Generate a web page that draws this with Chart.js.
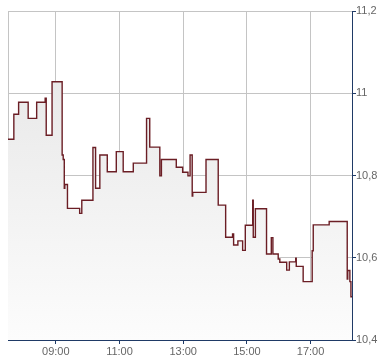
<!DOCTYPE html>
<html>
<head>
<meta charset="utf-8">
<script src="https://cdn.jsdelivr.net/npm/chart.js@4/dist/chart.umd.min.js"></script>
<style>
  html, body { margin: 0; padding: 0; background: #fff; }
  #wrap { width: 390px; height: 364px; }
</style>
</head>
<body>
<div id="wrap"><canvas id="priceChart"></canvas></div>
<script>
// price changes over the day (time of change, new price)
const times = ['07:30', '07:41', '07:50', '08:08', '08:24', '08:40', '08:42', '08:53', '09:12', '09:14',
    '09:16', '09:17', '09:22', '09:45', '09:49', '10:10', '10:15', '10:23', '10:37', '10:54',
    '11:07', '11:26', '11:51', '11:57', '12:16', '12:19', '12:47', '12:59', '13:09', '13:13',
    '13:17', '13:18', '13:43', '14:06', '14:20', '14:33', '14:35', '14:43', '14:52', '14:57',
    '15:11', '15:12', '15:16', '15:37', '15:46', '15:49', '15:59', '16:02', '16:15', '16:20',
    '16:32', '16:33', '16:46', '17:03', '17:05', '17:35', '18:09', '18:10', '18:14', '18:16', '18:18'];
const prices = [10.888, 10.949, 10.978, 10.939, 10.978, 10.988, 10.898, 11.028, 10.850, 10.839,
    10.769, 10.778, 10.720, 10.708, 10.740, 10.868, 10.769, 10.850, 10.809, 10.858,
    10.809, 10.830, 10.939, 10.869, 10.799, 10.839, 10.820, 10.808, 10.799, 10.850,
    10.750, 10.759, 10.839, 10.728, 10.650, 10.658, 10.631, 10.641, 10.618, 10.679,
    10.740, 10.650, 10.719, 10.609, 10.649, 10.609, 10.597, 10.589, 10.570, 10.590,
    10.599, 10.579, 10.542, 10.617, 10.680, 10.688, 10.548, 10.569, 10.542, 10.505, 10.505];
const hourTicks = [9, 11, 13, 15, 17];
const priceTicks = [10.4, 10.6, 10.8, 11, 11.2];

const toHours = t => {
    const p = t.split(':');
    return parseInt(p[0], 10) + parseInt(p[1], 10) / 60;
};

const navy = '#1f3a66';
const gridGray = '#c4c4c4';

// gray frame on left / top of the plot area
const framePlugin = {
    id: 'frame',
    beforeDatasetsDraw(chart) {
        const a = chart.chartArea;
        const ctx = chart.ctx;
        ctx.save();
        ctx.strokeStyle = gridGray;
        ctx.lineWidth = 1;
        ctx.beginPath();
        ctx.moveTo(Math.round(a.left) + 0.5, a.bottom);
        ctx.lineTo(Math.round(a.left) + 0.5, Math.round(a.top) + 0.5);
        ctx.lineTo(a.right, Math.round(a.top) + 0.5);
        ctx.stroke();
        ctx.restore();
    }
};

const ctx = document.getElementById('priceChart').getContext('2d');
const chart = new Chart(ctx, {
    type: 'line',
    data: {
        datasets: [{
            data: times.map((t, i) => ({ x: toHours(t), y: prices[i] })),
            stepped: 'before',
            borderColor: '#6b1e25',
            borderWidth: 1.4,
            pointRadius: 0,
            fill: 'start',
            backgroundColor: function(context) {
                const area = context.chart.chartArea;
                if (!area) return '#efefef';
                const g = context.chart.ctx.createLinearGradient(0, area.top, 0, area.bottom);
                g.addColorStop(0, '#e4e4e4');
                g.addColorStop(1, '#fcfcfc');
                return g;
            }
        }]
    },
    options: {
        responsive: true,
        maintainAspectRatio: false,
        animation: false,
        layout: { padding: { left: 8, top: 11, right: 0, bottom: 0 } },
        plugins: {
            legend: { display: false },
            tooltip: { enabled: false }
        },
        scales: {
            x: {
                type: 'linear',
                min: 7.5,
                max: 18.3,
                afterBuildTicks: scale => {
                    scale.ticks = hourTicks.map(v => ({ value: v }));
                },
                afterFit: scale => { scale.height = 24; },
                grid: {
                    color: gridGray,
                    tickColor: navy,
                    tickLength: 4
                },
                border: { color: navy, width: 1 },
                ticks: {
                    padding: 1,
                    color: '#666',
                    font: { family: 'Arial, "Liberation Sans", sans-serif', size: 11 },
                    maxRotation: 0,
                    callback: v => String(v).padStart(2, '0') + ':00'
                }
            },
            y: {
                position: 'right',
                min: 10.4,
                max: 11.2,
                afterBuildTicks: scale => {
                    scale.ticks = priceTicks.map(v => ({ value: v }));
                },
                afterFit: scale => { scale.width = 38; },
                grid: {
                    color: gridGray,
                    tickColor: navy,
                    tickLength: 4
                },
                border: { color: navy, width: 1 },
                ticks: {
                    padding: 0,
                    color: '#666',
                    font: { family: 'Arial, "Liberation Sans", sans-serif', size: 11 },
                    callback: v => String(Math.round(v * 10) / 10).replace('.', ',')
                }
            }
        }
    },
    plugins: [framePlugin]
});
</script>
</body>
</html>
